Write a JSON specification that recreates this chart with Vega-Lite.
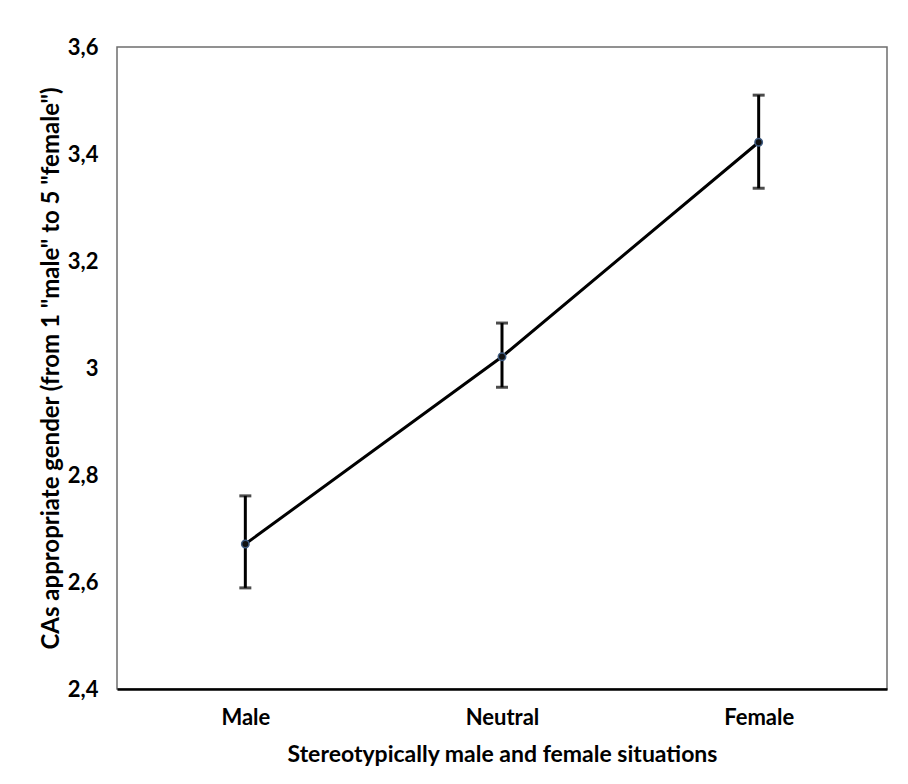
{
  "$schema": "https://vega.github.io/schema/vega-lite/v6.json",
  "width": 770,
  "height": 642,
  "autosize": {"type": "none"},
  "padding": {"left": 117, "top": 47, "right": 21, "bottom": 95},
  "background": "white",
  "config": {
    "view": {"stroke": "#6e6e6e", "strokeWidth": 1.5},
    "font": "Lato"
  },
  "data": {
    "values": [
      {"situation": "Male", "mean": 2.671, "lo": 2.589, "hi": 2.761},
      {"situation": "Neutral", "mean": 3.021, "lo": 2.964, "hi": 3.084},
      {"situation": "Female", "mean": 3.422, "lo": 3.336, "hi": 3.510}
    ]
  },
  "encoding": {
    "x": {
      "field": "situation",
      "type": "nominal",
      "sort": ["Male", "Neutral", "Female"],
      "scale": {"type": "point", "padding": 0.5},
      "axis": {
        "title": "Stereotypically male and female situations",
        "labelAngle": 0,
        "ticks": false,
        "domain": true,
        "domainColor": "black",
        "domainWidth": 2.5,
        "labelFont": "Lato",
        "labelFontSize": 22,
        "labelFontWeight": "bold",
        "labelColor": "black",
        "labelPadding": 18,
        "titleFont": "Lato",
        "titleFontSize": 23,
        "titleFontWeight": "bold",
        "titleColor": "black",
        "titlePadding": 15
      }
    }
  },
  "layer": [
    {
      "mark": {"type": "rule", "color": "black", "strokeWidth": 3},
      "encoding": {
        "y": {
          "field": "lo",
          "type": "quantitative",
          "scale": {"domain": [2.4, 3.6], "nice": false, "zero": false},
          "axis": {
            "title": "CAs appropriate gender (from 1 \"male\" to 5 \"female\")",
            "values": [2.4, 2.6, 2.8, 3.0, 3.2, 3.4, 3.6],
            "labelExpr": "replace(format(datum.value, '.2~f'), '.', ',')",
            "ticks": false,
            "domain": false,
            "grid": false,
            "labelFont": "Lato",
            "labelFontSize": 22,
            "labelFontWeight": "bold",
            "labelColor": "black",
            "labelPadding": 19,
            "titleFont": "Lato",
            "titleFontSize": 24,
            "titleFontWeight": "bold",
            "titleColor": "black",
            "titlePadding": 4
          }
        },
        "y2": {"field": "hi"}
      }
    },
    {
      "mark": {"type": "tick", "orient": "horizontal", "size": 12, "thickness": 3, "color": "black"},
      "encoding": {"y": {"field": "lo", "type": "quantitative"}}
    },
    {
      "mark": {"type": "tick", "orient": "horizontal", "size": 12, "thickness": 3, "color": "black"},
      "encoding": {"y": {"field": "hi", "type": "quantitative"}}
    },
    {
      "mark": {"type": "line", "color": "black", "strokeWidth": 3},
      "encoding": {"y": {"field": "mean", "type": "quantitative"}}
    },
    {
      "mark": {"type": "point", "filled": false, "size": 55, "fill": "#111", "fillOpacity": 1, "stroke": "#3d5a80", "strokeWidth": 1.5, "opacity": 1},
      "encoding": {"y": {"field": "mean", "type": "quantitative"}}
    }
  ]
}
